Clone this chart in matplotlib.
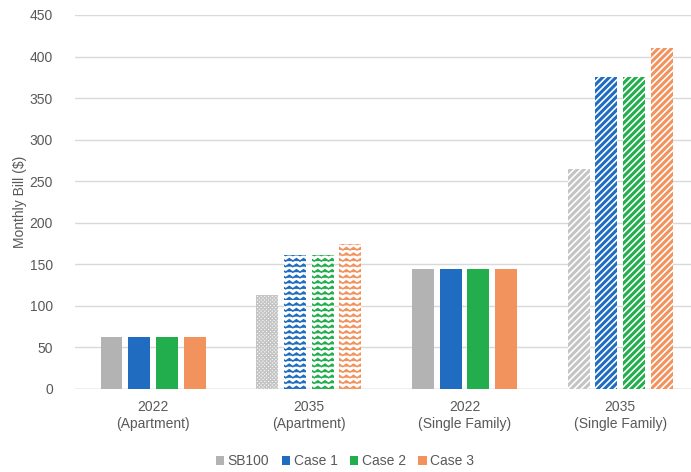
import warnings
import numpy as np
import matplotlib
matplotlib.use("Agg")
import matplotlib.pyplot as plt
import matplotlib.hatch as mhatch
from matplotlib.path import Path
from matplotlib.patches import Patch

warnings.filterwarnings("ignore")

# ---- data -------------------------------------------------------------
categories = ["2022\n(Apartment)", "2035\n(Apartment)",
              "2022\n(Single Family)", "2035\n(Single Family)"]
series_names = ["SB100", "Case 1", "Case 2", "Case 3"]
sb100 = [62, 113, 144, 265]
case1 = [62, 161, 144, 375]
case2 = [62, 161, 144, 375]
case3 = [62, 175, 144, 410]
y_ticks = [0, 50, 100, 150, 200, 250, 300, 350, 400, 450]

colors = ["#B3B3B3", "#1F6CC0", "#22AE4C", "#F2935E"]


# ---- a wavy hatch ('~') ---------------------------------------------------
class WaveHatch(mhatch.HatchPatternBase):
    def __init__(self, hatch, density):
        self.num_rows = int(hatch.count("~") * density)
        self.num_segs = 28
        self.num_vertices = self.num_rows * (self.num_segs + 1)

    def set_vertices_and_codes(self, vertices, codes):
        n, k = self.num_rows, self.num_segs
        xs = np.linspace(0, 1, k + 1)
        amp = 0.45 / n
        idx = 0
        for y0 in np.linspace(0, 1, n, endpoint=False):
            ys = y0 + np.where(np.arange(k + 1) % 2 == 0, 0.0, amp)
            vertices[idx:idx + k + 1, 0] = xs
            vertices[idx:idx + k + 1, 1] = ys
            codes[idx] = Path.MOVETO
            codes[idx + 1:idx + k + 1] = Path.LINETO
            idx += k + 1


mhatch._hatch_types.append(WaveHatch)

# ---- figure -------------------------------------------------------------
plt.rcParams["font.family"] = ["Liberation Sans", "DejaVu Sans"]
text_color = "#595959"

fig = plt.figure(figsize=(6.91, 4.72), dpi=100)
W, H = 691, 472
left, right, bottom, top = 75.2, 698.0, 389, 15
ax = fig.add_axes([left / W, 1 - bottom / H, (right - left) / W, (bottom - top) / H])

values = [sb100, case1, case2, case3]
x = np.arange(len(categories))
pitch = 0.178
width = 0.141
offsets = (np.arange(4) - 1.5) * pitch

# hatch per category (solid, wave, solid, stripes); SB100 uses a finer texture
for s, (vals, col) in enumerate(zip(values, colors)):
    for i, v in enumerate(vals):
        if i in (0, 2):
            ax.bar(x[i] + offsets[s], v, width, color=col, linewidth=0, zorder=3)
        elif i == 1:
            if s == 0:
                plt.rcParams["hatch.linewidth"] = 1.0
                hatch = "xxxxxxxxx"
                edge = "#C4C4C4"
            else:
                plt.rcParams["hatch.linewidth"] = 1.1
                hatch = "~~~"
                edge = col
            ax.bar(x[i] + offsets[s], v, width, facecolor="white",
                   edgecolor=edge, linewidth=0, hatch=hatch, zorder=3)
        else:
            plt.rcParams["hatch.linewidth"] = 2.2
            edge = "#C4C4C4" if s == 0 else col
            ax.bar(x[i] + offsets[s], v, width, facecolor="white",
                   edgecolor=edge, linewidth=0, hatch="/////", zorder=3)

ax.set_xlim(-0.5, len(categories) - 0.5)
ax.set_ylim(0, 450)
ax.set_yticks(y_ticks)
ax.set_xticks(x)
ax.set_xticklabels(categories, linespacing=1.25)
ax.tick_params(axis="both", length=0, labelsize=10, colors=text_color)
ax.tick_params(axis="y", pad=16)
ax.tick_params(axis="x", pad=8)
ax.grid(axis="y", color="#D9D9D9", linewidth=1.0, zorder=0)
ax.set_axisbelow(True)
for sp in ax.spines.values():
    sp.set_visible(False)
ax.axhline(0, color="#D0D0D0", linewidth=1.0, zorder=2)

ax.set_ylabel("Monthly Bill ($)", fontsize=10, color=text_color, labelpad=2)

handles = [Patch(facecolor=c, edgecolor="none") for c in colors]
fig.legend(handles, series_names, loc="center", bbox_to_anchor=(345 / W, 1 - 461 / H),
           ncol=4, frameon=False, fontsize=10, handlelength=0.6, handleheight=0.6,
           handletextpad=0.25, columnspacing=0.9, labelcolor=text_color)

fig.savefig("out.png", dpi=100)
